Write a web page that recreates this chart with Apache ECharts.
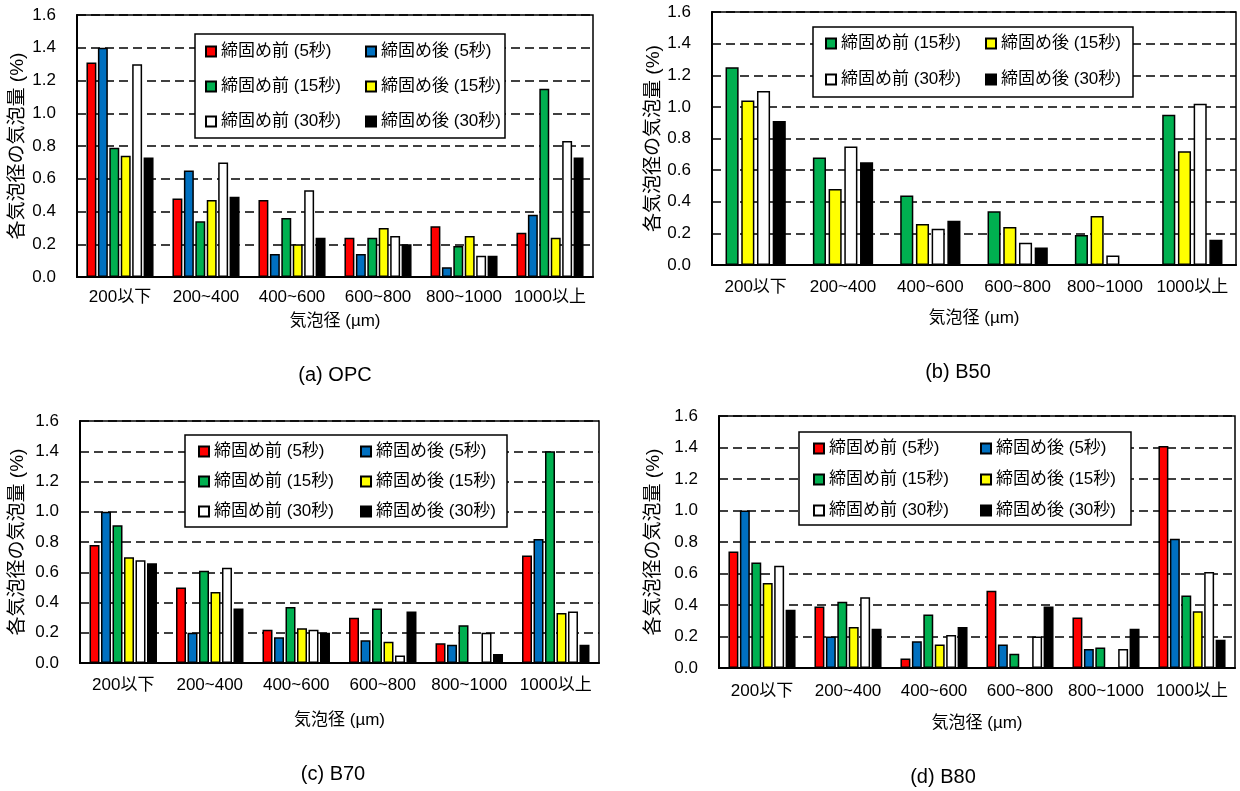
<!DOCTYPE html>
<html>
<head>
<meta charset="utf-8">
<script src="https://cdn.jsdelivr.net/npm/echarts@6/dist/echarts.min.js"></script>
<style>
html,body{margin:0;padding:0;background:#fff;}
#chart{width:1240px;height:791px;}
</style>
</head>
<body>
<div id="chart"></div>
<script>
// ---------- data ----------
const categories = ['200以下', '200~400', '400~600', '600~800', '800~1000', '1000以上'];
const seriesNames = ['締固め前 (5秒)', '締固め後 (5秒)', '締固め前 (15秒)', '締固め後 (15秒)', '締固め前 (30秒)', '締固め後 (30秒)'];
const captions = ['(a) OPC', '(b) B50', '(c) B70', '(d) B80'];
const yAxisTitle = '各気泡径の気泡量 (%)';
const xAxisTitle = '気泡径 (µm)';
const yMin = 0, yMax = 1.6, yStep = 0.2;

// (a) OPC
const OPC_pre5   = [1.31, 0.48, 0.47, 0.24, 0.31, 0.27];
const OPC_post5  = [1.40, 0.65, 0.14, 0.14, 0.06, 0.38];
const OPC_pre15  = [0.79, 0.34, 0.36, 0.24, 0.19, 1.15];
const OPC_post15 = [0.74, 0.47, 0.20, 0.30, 0.25, 0.24];
const OPC_pre30  = [1.30, 0.70, 0.53, 0.25, 0.13, 0.83];
const OPC_post30 = [0.73, 0.49, 0.24, 0.20, 0.13, 0.73];
// (b) B50
const B50_pre15  = [1.25, 0.68, 0.44, 0.34, 0.19, 0.95];
const B50_post15 = [1.04, 0.48, 0.26, 0.24, 0.31, 0.72];
const B50_pre30  = [1.10, 0.75, 0.23, 0.14, 0.06, 1.02];
const B50_post30 = [0.91, 0.65, 0.28, 0.11, 0.00, 0.16];
// (c) B70
const B70_pre5   = [0.78, 0.50, 0.22, 0.30, 0.13, 0.71];
const B70_post5  = [1.00, 0.20, 0.17, 0.15, 0.12, 0.82];
const B70_pre15  = [0.91, 0.61, 0.37, 0.36, 0.25, 1.40];
const B70_post15 = [0.70, 0.47, 0.23, 0.14, 0.00, 0.33];
const B70_pre30  = [0.68, 0.63, 0.22, 0.05, 0.20, 0.34];
const B70_post30 = [0.66, 0.36, 0.20, 0.34, 0.06, 0.12];
// (d) B80
const B80_pre5   = [0.74, 0.39, 0.06, 0.49, 0.32, 1.41];
const B80_post5  = [1.00, 0.20, 0.17, 0.15, 0.12, 0.82];
const B80_pre15  = [0.67, 0.42, 0.34, 0.09, 0.13, 0.46];
const B80_post15 = [0.54, 0.26, 0.15, 0.00, 0.00, 0.36];
const B80_pre30  = [0.65, 0.45, 0.21, 0.20, 0.12, 0.61];
const B80_post30 = [0.37, 0.25, 0.26, 0.39, 0.25, 0.18];

// ---------- styles / layout ----------
const colorOf = {};
colorOf[seriesNames[0]] = '#FF0000';
colorOf[seriesNames[1]] = '#0070C0';
colorOf[seriesNames[2]] = '#00B050';
colorOf[seriesNames[3]] = '#FFFF00';
colorOf[seriesNames[4]] = '#FFFFFF';
colorOf[seriesNames[5]] = '#000000';

const FONT = '"Liberation Sans", Arial, "Noto Sans CJK JP", sans-serif';
const pre = [seriesNames[0], seriesNames[2], seriesNames[4]];
const post = [seriesNames[1], seriesNames[3], seriesNames[5]];

const panels = [
  {
    grid: {left: 77, top: 15, width: 516, height: 262},
    series: [[seriesNames[0], OPC_pre5], [seriesNames[1], OPC_post5], [seriesNames[2], OPC_pre15],
             [seriesNames[3], OPC_post15], [seriesNames[4], OPC_pre30], [seriesNames[5], OPC_post30]],
    catGap: '22%', barGap: '15%',
    box: [195, 34, 310, 104],
    legends: [{left: 205, top: 43, gap: 18, data: pre}, {left: 365, top: 43, gap: 18, data: post}],
    xLabelMargin: 12, xNameGap: 36, yNameGap: 50, caption: [335, 375]
  },
  {
    grid: {left: 712, top: 12, width: 524, height: 253},
    series: [[seriesNames[2], B50_pre15], [seriesNames[3], B50_post15],
             [seriesNames[4], B50_pre30], [seriesNames[5], B50_post30]],
    catGap: '31%', barGap: '20%',
    box: [813, 27, 320, 70],
    legends: [{left: 825, top: 35, gap: 19, data: [seriesNames[2], seriesNames[4]]},
              {left: 985, top: 35, gap: 19, data: [seriesNames[3], seriesNames[5]]}],
    xLabelMargin: 14, xNameGap: 45, yNameGap: 49, caption: [958, 372]
  },
  {
    grid: {left: 80, top: 421, width: 519, height: 242},
    series: [[seriesNames[0], B70_pre5], [seriesNames[1], B70_post5], [seriesNames[2], B70_pre15],
             [seriesNames[3], B70_post15], [seriesNames[4], B70_pre30], [seriesNames[5], B70_post30]],
    catGap: '22%', barGap: '15%',
    box: [185, 435, 322, 92],
    legends: [{left: 198, top: 443, gap: 13, data: pre}, {left: 360, top: 443, gap: 13, data: post}],
    xLabelMargin: 14, xNameGap: 49, yNameGap: 53, caption: [333, 774]
  },
  {
    grid: {left: 719, top: 416, width: 516, height: 252},
    series: [[seriesNames[0], B80_pre5], [seriesNames[1], B80_post5], [seriesNames[2], B80_pre15],
             [seriesNames[3], B80_post15], [seriesNames[4], B80_pre30], [seriesNames[5], B80_post30]],
    catGap: '22%', barGap: '15%',
    box: [799, 432, 332, 93],
    legends: [{left: 813, top: 440, gap: 14, data: pre}, {left: 980, top: 440, gap: 14, data: post}],
    xLabelMargin: 15, xNameGap: 47, yNameGap: 56, caption: [943, 777]
  }
];

// ---------- option ----------
const option = {
  animation: false,
  backgroundColor: '#fff',
  textStyle: {fontFamily: FONT},
  grid: [], xAxis: [], yAxis: [], series: [], legend: [],
  graphic: {elements: []}
};

panels.forEach((p, i) => {
  option.grid.push(Object.assign({show: true, borderColor: '#000', borderWidth: 1.5,
    backgroundColor: 'transparent', containLabel: false, outerBoundsMode: 'none'}, p.grid));
  option.xAxis.push({
    type: 'category', gridIndex: i, data: categories,
    axisTick: {show: false},
    axisLine: {show: true, lineStyle: {color: '#000', width: 2}},
    axisLabel: {interval: 0, margin: p.xLabelMargin, fontSize: 17, color: '#000', fontFamily: FONT},
    name: xAxisTitle, nameLocation: 'middle', nameGap: p.xNameGap,
    nameTextStyle: {fontSize: 17, color: '#000', fontFamily: FONT},
    splitLine: {show: false}
  });
  option.yAxis.push({
    type: 'value', gridIndex: i, min: yMin, max: yMax, interval: yStep,
    axisLine: {show: true, lineStyle: {color: '#000', width: 2}},
    axisTick: {show: false},
    axisLabel: {margin: 21, fontSize: 17, color: '#000', fontFamily: FONT,
      formatter: v => v.toFixed(1)},
    splitLine: {show: true, lineStyle: {color: '#000', width: 1.6, type: [9, 5]}},
    name: yAxisTitle, nameLocation: 'middle', nameGap: p.yNameGap, nameRotate: 90,
    nameTextStyle: {fontSize: 19, color: '#000', fontFamily: FONT}
  });
  p.series.forEach(([name, values]) => {
    option.series.push({
      type: 'bar', name: name, xAxisIndex: i, yAxisIndex: i, data: values,
      barGap: p.barGap, barCategoryGap: p.catGap,
      itemStyle: {color: colorOf[name], borderColor: '#000', borderWidth: 1.5},
      emphasis: {disabled: true}, z: 2
    });
  });
  p.legends.forEach(l => {
    option.legend.push({
      orient: 'vertical', left: l.left, top: l.top, itemGap: l.gap, padding: 0,
      icon: 'rect', itemWidth: 10, itemHeight: 10, selectedMode: false,
      textStyle: {fontSize: 17, lineHeight: 17, color: '#000', fontFamily: FONT},
      data: l.data, z: 20
    });
  });
  option.graphic.elements.push({
    type: 'rect', z: 10, silent: true,
    shape: {x: p.box[0], y: p.box[1], width: p.box[2], height: p.box[3]},
    style: {fill: '#fff', stroke: '#000', lineWidth: 1.5}
  });
  option.graphic.elements.push({
    type: 'text', z: 10, silent: true, x: p.caption[0], y: p.caption[1],
    style: {text: captions[i], font: '20px ' + FONT, fill: '#000',
      textAlign: 'center', textVerticalAlign: 'middle'}
  });
});

const chart = echarts.init(document.getElementById('chart'), null, {renderer: 'canvas'});
chart.setOption(option);
</script>
</body>
</html>
